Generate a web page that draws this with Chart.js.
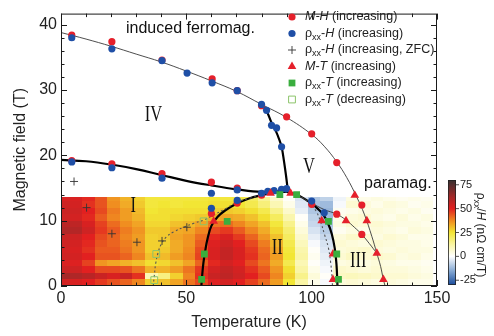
<!DOCTYPE html>
<html><head><meta charset="utf-8">
<script src="https://cdn.jsdelivr.net/npm/chart.js@4/dist/chart.umd.min.js"></script>
<style>html,body{margin:0;padding:0;background:#fff;}#wrap{width:494px;height:336px;}</style>
</head><body><div id="wrap"><canvas id="c" width="494" height="336"></canvas></div>
<script>
// ---------------- data ----------------
const xTicks = [0, 50, 100, 150];
const yTicks = [0, 10, 20, 30, 40];
const cbTicks = [75, 50, 25, 0, -25];

// M-H (increasing)
const mhT = [4.3, 20.3, 40.3, 60.3, 70.3, 80, 90, 100, 110, 120, 4.3, 20.3, 40.3, 60, 70.3, 60, 70.3, 80, 100, 110, 120];
const mhB = [38.4, 37.4, 34.6, 31.7, 29.9, 27.6, 25.9, 23.3, 18.9, 12.4, 19.2, 18.7, 17.2, 15.9, 15.0, 11.1, 12.7, 13.9, 12.5, 11.0, 7.9];
// rho_xx-H (increasing)
const rhT = [4.3, 20.3, 40.3, 50.3, 60.3, 70.3, 80, 82, 84, 86, 88, 4.3, 20.3, 40.3, 60, 70.3, 60, 70.3, 80, 82.5, 85, 88, 90, 100, 105];
const rhB = [38.0, 36.3, 34.5, 32.6, 31.1, 29.9, 27.8, 26.9, 24.6, 24.2, 21.3, 19.0, 18.1, 16.5, 14.2, 14.7, 11.9, 13.1, 14.2, 14.5, 14.6, 14.8, 14.9, 13.0, 11.2];
// rho_xx-H (increasing, ZFC)
const zfcT = [5.2, 10.2, 20.3, 30.3, 40.3, 50.2];
const zfcB = [16.0, 12.0, 8.0, 6.7, 6.9, 9.0];
// M-T (increasing)
const mtT = [60.9, 83.6, 91.6, 104, 108.5, 108.5, 117.2, 113.7, 122, 126, 128.6];
const mtB = [9.9, 14.2, 14.2, 10.0, 4.9, 1.0, 13.9, 10.0, 10.0, 5.0, 1.0];
// rho_xx-T (increasing)
const rtIncT = [56.1, 57.2, 66.3, 87.3, 94, 106.7, 110, 110.7];
const rtIncB = [1.0, 4.9, 9.9, 14.0, 14.0, 9.9, 4.9, 1.0];
// rho_xx-T (decreasing)
const rtDecT = [37.2, 38, 56.9];
const rtDecB = [0.9, 4.9, 9.9];

// phase boundaries
const upT = [0, 10, 20, 30, 40, 50, 60, 70, 80, 90, 100, 105, 110, 114, 118, 121, 124, 126, 127.5, 128.6, 129.3];
const upB = [38.8, 37.8, 36.7, 35.5, 34.3, 32.9, 31.4, 29.8, 27.8, 25.8, 23.2, 21.4, 19.0, 16.6, 13.6, 11.0, 7.6, 5.0, 3.0, 1.0, 0];
const lowThinT = [95, 100, 105, 110, 113.7, 117, 120, 123, 126];
const lowThinB = [13.8, 12.7, 11.7, 11.0, 10.1, 9.0, 7.9, 6.5, 5.0];
const leftT = [0, 10, 20, 30, 40, 50, 60, 70, 80, 90.5];
const leftB = [19.3, 19.1, 18.6, 17.9, 17.0, 16.1, 15.4, 14.8, 14.4, 14.6];
const vertT = [80, 82, 84, 85.5, 87, 88, 89, 89.8, 90.5];
const vertB = [27.8, 26.8, 25.0, 23.9, 22.5, 21.3, 19.0, 16.8, 14.6];
const domeT = [56, 56.3, 56.8, 57.5, 58.5, 60, 62.5, 65.6, 70, 75, 80, 85, 90, 93, 96, 100, 102.5, 104.7, 106.5, 108, 109.2, 109.9, 110.3];
const domeB = [0, 1.5, 3.5, 5.3, 7.3, 9.2, 10.6, 11.6, 12.6, 13.4, 13.9, 14.3, 14.4, 14.1, 13.6, 12.6, 11.8, 10.9, 9.6, 8.0, 5.8, 3.3, 0];
const dashT = [36.8, 37.2, 37.8, 38.8, 40, 42, 45, 49.6, 53, 57, 61, 66, 70, 75, 80, 85, 90, 94, 97, 100, 102, 103.6, 105.2, 106.7, 107.6, 108.1, 108.3];
const dashB = [0, 1.5, 3.5, 5.2, 6.4, 7.5, 8.3, 9.1, 9.6, 10.1, 10.9, 11.9, 12.8, 13.4, 13.9, 14.3, 14.4, 14.0, 13.3, 12.3, 11.3, 9.8, 7.8, 5.8, 3.5, 1.5, 0];

// heat map (rho_xx/H, nOhm cm/T): column centre temperatures, row lower-edge fields (top -> bottom)
const heatTemps = [1, 6, 11, 16, 21, 26, 31, 36, 41, 46, 51, 56, 61, 66, 71, 76, 81, 86, 91, 96, 101, 106, 111, 116, 121, 126, 131, 136, 141, 146];
const heatFields = [13, 12, 11, 10, 9, 8, 7, 6, 5, 4, 3, 2, 1, 0];
const heatCols = [
  [52,54,55,54,58,60,55,54,53,54,52,55,62,53],
  [52,53,54,53,57,59,54,53,52,53,51,54,60,52],
  [49,48,50,49,52,54,50,49,48,50,46,50,58,50],
  [44,44,45,43,46,47,45,44,43,44,36,45,55,47],
  [36,37,39,38,41,43,42,42,43,44,34,45,52,44],
  [32,33,35,35,37,39,38,39,40,42,32,44,55,42],
  [28,29,31,32,34,36,35,36,36,38,30,40,48,38],
  [24,24,25,26,27,29,28,28,28,30,26,32,10,28],
  [24,25,26,26,27,29,29,28,29,31,27,32,16,30],
  [24,24,26,27,30,33,34,33,33,35,30,35,28,34],
  [24,25,26,28,31,34,36,36,37,38,34,40,38,40],
  [24,25,26,29,34,38,41,43,45,46,42,47,48,45],
  [25,26,28,33,40,45,49,51,52,52,49,53,55,51],
  [24,26,29,34,41,47,52,54,56,56,53,56,57,53],
  [23,25,28,33,38,43,47,50,52,52,50,53,54,50],
  [20,22,26,30,34,38,42,45,47,48,45,48,50,46],
  [14,17,22,26,30,33,36,39,41,42,40,43,45,41],
  [7,10,15,20,24,27,30,32,34,35,33,36,38,35],
  [1,3,7,11,15,18,20,22,24,25,22,26,28,25],
  [-5,-4,-3,1,3,5,7,9,11,12,10,12,15,12],
  [-10,-11,-10,-8,-7,-5,-3,-1,1,2,1,3,5,3],
  [-8,-12,-13,-12,-10,-9,-7,-5,-4,-3,-2,-1,1,-1],
  [-2,-1,2,3,4,2,5,6,5,6,4,7,8,5],
  [4,6,3,5,6,4,7,5,6,8,5,6,9,6],
  [3,5,4,6,5,3,6,4,7,6,4,5,8,5],
  [4,3,5,4,6,5,4,6,5,7,5,6,7,4],
  [3,5,4,3,5,4,6,5,4,6,4,5,6,5],
  [2,4,3,5,4,3,5,4,5,4,3,5,6,4],
  [3,2,4,3,4,5,3,4,4,5,3,4,5,3],
  [2,3,2,4,3,4,3,3,4,3,2,3,4,3]
];
const heatTopField = 13.7;
const heatColWidth = 5;

// ---------------- helpers ----------------
const SANS = '"Liberation Sans", Arial, Helvetica, sans-serif';
const SERIF = '"Liberation Serif", "Times New Roman", serif';
const pts = (xs, ys) => xs.map((v, i) => ({x: v, y: ys[i]}));
const cmStops = [[-30,[25,75,155]],[-15,[135,170,212]],[0,[255,255,255]],[12,[250,245,165]],[25,[242,230,52]],[37,[240,142,32]],[50,[226,32,32]],[62,[165,40,40]],[80,[55,50,50]]];
function cmap(v){
  if (v <= cmStops[0][0]) return 'rgb('+cmStops[0][1].join(',')+')';
  for (let i = 1; i < cmStops.length; i++){
    if (v <= cmStops[i][0]){
      const [a, ca] = cmStops[i-1], [b, cb] = cmStops[i];
      const f = (v - a) / (b - a);
      return 'rgb(' + ca.map((c, k) => Math.round(c + (cb[k] - c) * f)).join(',') + ')';
    }
  }
  return 'rgb('+cmStops[cmStops.length-1][1].join(',')+')';
}
const RED = '#e5202b', BLUE = '#1f4fa6', GREEN = '#3aae3e', OPEN = '#8cc46a';

function marker(ctx, style, x, y, r, fill, stroke, lw){
  ctx.save();
  ctx.beginPath();
  if (style === 'circle') ctx.arc(x, y, r, 0, Math.PI * 2);
  else if (style === 'triangle'){
    ctx.moveTo(x, y - r); ctx.lineTo(x + r * 0.866, y + r * 0.5); ctx.lineTo(x - r * 0.866, y + r * 0.5); ctx.closePath();
  } else if (style === 'rect'){
    const s = r * Math.SQRT1_2; ctx.rect(x - s, y - s, 2 * s, 2 * s);
  } else if (style === 'cross'){
    ctx.moveTo(x - r, y); ctx.lineTo(x + r, y); ctx.moveTo(x, y - r); ctx.lineTo(x, y + r);
  }
  if (fill && style !== 'cross'){ ctx.fillStyle = fill; ctx.fill(); }
  if (stroke && lw > 0){ ctx.strokeStyle = stroke; ctx.lineWidth = lw; ctx.stroke(); }
  ctx.restore();
}

// ---------------- plugins ----------------
const heatPlugin = {
  id: 'heat',
  beforeDatasetsDraw(chart){
    const {ctx, chartArea: a, scales: {x, y}} = chart;
    ctx.save();
    ctx.beginPath(); ctx.rect(a.left, a.top, a.right - a.left, a.bottom - a.top); ctx.clip();
    heatTemps.forEach((t, i) => {
      const x0 = Math.round(x.getPixelForValue(t - heatColWidth / 2));
      const x1 = Math.round(x.getPixelForValue(t + heatColWidth / 2));
      heatCols[i].forEach((v, j) => {
        const b = heatFields[j];
        const top = Math.min(b + 1, heatTopField);
        const y0 = Math.round(y.getPixelForValue(top));
        const y1 = Math.round(y.getPixelForValue(b));
        ctx.fillStyle = cmap(v);
        ctx.fillRect(x0, y0, x1 - x0, y1 - y0);
      });
    });
    ctx.restore();
  }
};

const framePlugin = {
  id: 'frame',
  afterDatasetsDraw(chart){
    const {ctx, chartArea: a, scales: {x, y}} = chart;
    ctx.save();
    ctx.strokeStyle = '#1a1a1a'; ctx.lineWidth = 1;
    ctx.strokeRect(a.left + 0.5, a.top + 0.5, a.right - a.left - 1, a.bottom - a.top - 1);
    ctx.beginPath();
    for (let v = x.min; v <= x.max + 1e-6; v += 10){
      const len = xTicks.includes(v) ? 6 : 3.5;
      const px = Math.round(x.getPixelForValue(v)) + 0.5;
      ctx.moveTo(px, a.bottom); ctx.lineTo(px, a.bottom - len);
      ctx.moveTo(px, a.top); ctx.lineTo(px, a.top + len);
    }
    for (let v = 0; v <= y.max + 1e-6; v += 2){
      const len = yTicks.includes(v) ? 6 : 3.5;
      const py = Math.round(y.getPixelForValue(v)) + 0.5;
      ctx.moveTo(a.left, py); ctx.lineTo(a.left + len, py);
      ctx.moveTo(a.right, py); ctx.lineTo(a.right - len, py);
    }
    ctx.stroke();
    ctx.restore();
  }
};

const legendRows = [
  {ds: 'mh', segs: [{t: 'M-H', it: 1}, {t: ' (increasing)'}]},
  {ds: 'rh', segs: [{t: 'ρ'}, {t: 'xx', sub: 1}, {t: '-'}, {t: 'H', it: 1}, {t: ' (increasing)'}]},
  {ds: 'zfc', segs: [{t: 'ρ'}, {t: 'xx', sub: 1}, {t: '-'}, {t: 'H', it: 1}, {t: ' (increasing, ZFC)'}]},
  {ds: 'mt', segs: [{t: 'M', it: 1}, {t: '-'}, {t: 'T', it: 1}, {t: ' (increasing)'}]},
  {ds: 'rti', segs: [{t: 'ρ'}, {t: 'xx', sub: 1}, {t: '-'}, {t: 'T', it: 1}, {t: ' (increasing)'}]},
  {ds: 'rtd', segs: [{t: 'ρ'}, {t: 'xx', sub: 1}, {t: '-'}, {t: 'T', it: 1}, {t: ' (decreasing)'}]}
];
function richText(ctx, x, y, segs, size){
  let cx = x;
  segs.forEach(s => {
    const fs = s.sub ? size * 0.72 : size;
    ctx.font = (s.it ? 'italic ' : '') + fs + 'px ' + SANS;
    ctx.fillText(s.t, cx, y + (s.sub ? size * 0.32 : 0));
    cx += ctx.measureText(s.t).width;
  });
  return cx;
}

const annotPlugin = {
  id: 'annot',
  afterDraw(chart){
    const {ctx} = chart;
    ctx.save();
    // legend
    ctx.textBaseline = 'middle'; ctx.textAlign = 'left'; ctx.fillStyle = '#222';
    legendRows.forEach((r, i) => {
      const ds = chart.data.datasets.find(d => d.key === r.ds);
      const yy = 17 + i * 16.5;
      marker(ctx, ds.pointStyle, 292, yy, ds.pointRadius, ds.backgroundColor, ds.borderColor, ds.borderWidth);
      ctx.fillStyle = '#222';
      richText(ctx, 305, yy, r.segs, 12.5);
    });
    // text labels
    ctx.fillStyle = '#111';
    ctx.font = '16px ' + SANS; ctx.textBaseline = 'alphabetic';
    ctx.fillText('induced ferromag.', 126, 33);
    ctx.fillText('paramag.', 364, 188);
    // roman numerals
    const romans = [['I', 133.3, 205], ['II', 277.3, 246.5], ['III', 358.3, 259.5], ['IV', 153.5, 113.5], ['V', 309, 165.5]];
    ctx.font = '23px ' + SERIF; ctx.textBaseline = 'middle'; ctx.textAlign = 'center';
    romans.forEach(([t, x, y]) => {
      ctx.save(); ctx.translate(x, y + 1); ctx.scale(0.72, 1); ctx.fillText(t, 0, 0); ctx.restore();
    });
    // colour bar
    const cbL = 448, cbW = 8, cbTop = 180, cbBot = 285, cbMin = -30, cbMax = 80;
    const g = ctx.createLinearGradient(0, cbTop, 0, cbBot);
    for (let v = cbMax; v >= cbMin; v -= 2) g.addColorStop((cbMax - v) / (cbMax - cbMin), cmap(v));
    ctx.fillStyle = g; ctx.fillRect(cbL, cbTop, cbW, cbBot - cbTop);
    ctx.strokeStyle = '#222'; ctx.lineWidth = 0.8;
    ctx.strokeRect(cbL + 0.4, cbTop + 0.4, cbW - 0.8, cbBot - cbTop - 0.8);
    ctx.beginPath();
    ctx.font = '11px ' + SANS; ctx.textAlign = 'left'; ctx.textBaseline = 'middle'; ctx.fillStyle = '#222';
    cbTicks.forEach(v => {
      const py = cbBot - (v - cbMin) / (cbMax - cbMin) * (cbBot - cbTop);
      ctx.moveTo(cbL + cbW, py); ctx.lineTo(cbL + cbW + 3, py);
      ctx.fillText(String(v).replace('-', '-'), cbL + cbW + 4, py);
    });
    ctx.stroke();
    // colour bar title
    ctx.save(); ctx.translate(480, 235); ctx.rotate(Math.PI / 2);
    ctx.textBaseline = 'middle'; ctx.fillStyle = '#222';
    const segs = [{t: 'ρ'}, {t: 'xx', sub: 1}, {t: '/'}, {t: 'H', it: 1}, {t: ' (nΩ cm/T)'}];
    let w = 0; segs.forEach(s => { ctx.font = (s.it ? 'italic ' : '') + (s.sub ? 12 * 0.72 : 12) + 'px ' + SANS; w += ctx.measureText(s.t).width; });
    richText(ctx, -w / 2, 0, segs, 12);
    ctx.restore();
    ctx.restore();
  }
};

// ---------------- chart ----------------
const lineDs = (key, xs, ys, color, width, dash) => ({key, data: pts(xs, ys), showLine: true, pointRadius: 0, borderColor: color, borderWidth: width, borderDash: dash || [], tension: 0.4, fill: false, order: 20});
const ctx = document.getElementById('c').getContext('2d');
new Chart(ctx, {
  type: 'scatter',
  data: {datasets: [
    lineDs('up', upT, upB, '#3a3a3a', 0.9),
    lineDs('lowthin', lowThinT, lowThinB, '#3a3a3a', 0.9),
    lineDs('dash', dashT, dashB, '#555', 1.1, [2, 2.5]),
    lineDs('left', leftT, leftB, '#000', 2.2),
    lineDs('vert', vertT, vertB, '#000', 2.2),
    lineDs('dome', domeT, domeB, '#000', 2.2),
    {key: 'mh', data: pts(mhT, mhB), pointStyle: 'circle', pointRadius: 3.6, backgroundColor: RED, borderColor: RED, borderWidth: 0, order: 6},
    {key: 'rh', data: pts(rhT, rhB), pointStyle: 'circle', pointRadius: 3.6, backgroundColor: BLUE, borderColor: BLUE, borderWidth: 0, order: 5},
    {key: 'zfc', data: pts(zfcT, zfcB), pointStyle: 'cross', pointRadius: 4, backgroundColor: '#333', borderColor: '#333', borderWidth: 0.9, order: 4},
    {key: 'mt', data: pts(mtT, mtB), pointStyle: 'triangle', pointRadius: 5, backgroundColor: RED, borderColor: RED, borderWidth: 0, order: 3},
    {key: 'rti', data: pts(rtIncT, rtIncB), pointStyle: 'rect', pointRadius: 4.8, backgroundColor: GREEN, borderColor: GREEN, borderWidth: 0, order: 2},
    {key: 'rtd', data: pts(rtDecT, rtDecB), pointStyle: 'rect', pointRadius: 4.8, backgroundColor: 'rgba(0,0,0,0)', borderColor: OPEN, borderWidth: 1, order: 1}
  ]},
  options: {
    responsive: false, animation: false, devicePixelRatio: 1,
    layout: {padding: {top: 5, right: 57, left: 0, bottom: 0}},
    plugins: {legend: {display: false}, tooltip: {enabled: false}},
    elements: {point: {hoverRadius: 0}},
    scales: {
      x: {type: 'linear', min: 0, max: 150,
        afterBuildTicks: s => { s.ticks = xTicks.map(v => ({value: v})); },
        afterFit: s => { s.height = 50; },
        grid: {display: false, drawTicks: false}, border: {display: false},
        ticks: {font: {size: 16, family: SANS}, color: '#222', padding: 3, maxRotation: 0},
        title: {display: true, text: 'Temperature (K)', font: {size: 16, family: SANS}, color: '#222', padding: {top: 0, bottom: 4}}},
      y: {type: 'linear', min: 0, max: 41.7,
        afterBuildTicks: s => { s.ticks = yTicks.map(v => ({value: v})); },
        afterFit: s => { s.width = 61; },
        grid: {display: false, drawTicks: false}, border: {display: false},
        ticks: {font: {size: 16, family: SANS}, color: '#222', padding: 4},
        title: {display: true, text: 'Magnetic field (T)', font: {size: 16, family: SANS}, color: '#222', padding: {top: 11, bottom: 0}}}
    }
  },
  plugins: [heatPlugin, framePlugin, annotPlugin]
});
</script></body></html>
